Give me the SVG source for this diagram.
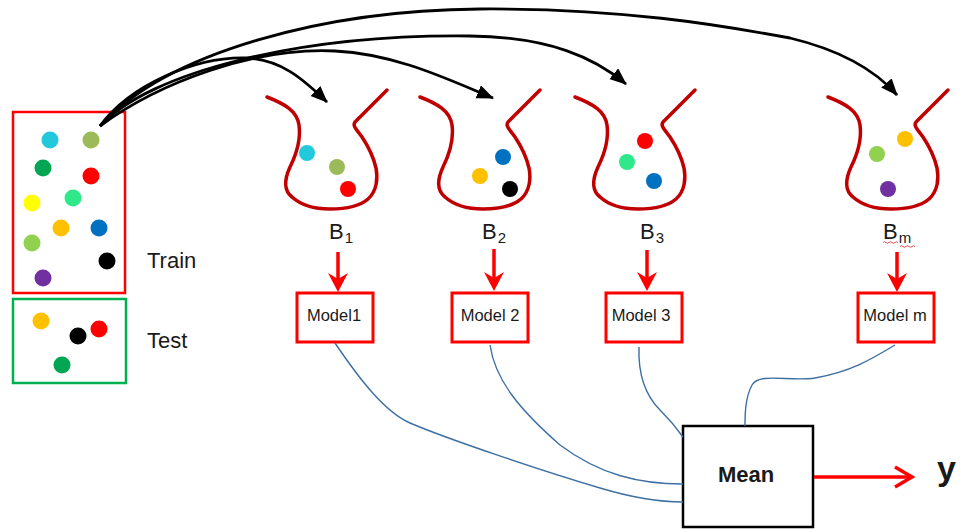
<svg xmlns="http://www.w3.org/2000/svg" xmlns:xlink="http://www.w3.org/1999/xlink" width="968" height="529" viewBox="0 0 968 529">
<style>
  text { font-family: "Liberation Sans", Arial, sans-serif; fill: #1a1a1a; }
  .lbl { font-size: 22px; }
  .sub { font-size: 15px; }
  .model { font-size: 16.5px; text-anchor: middle; }
  .mbox { fill: #fff; stroke: #ff0000; stroke-width: 3; }
  .basket { fill: none; stroke: #c00000; stroke-width: 3.5; stroke-linecap: round; stroke-linejoin: round; }
  .curve { fill: none; stroke: #000; stroke-width: 2.8; }
  .blue { fill: none; stroke: #3d6fa3; stroke-width: 1.4; }
  .redline { stroke: #ff0000; stroke-width: 3.5; fill: none; }
  .redhead { fill: #ff0000; }
</style>
<defs>
  <marker id="blk" markerUnits="userSpaceOnUse" markerWidth="18" markerHeight="16" refX="16" refY="7" orient="auto">
    <path d="M0,0 L17,7 L0,14 Z" fill="#000"/>
  </marker>
  <path id="basketShape" class="basket" d="M267,97 C285,104 297,111 299,125 C301,140 296,155 290,167 C285,178 283,190 292,197 C302,206 316,209 330,209 C345,209 360,206 368,199 C377,191 378,178 376,168 C373,155 368,146 362,137 C357,130 352,126 355,122 L387,90"/>
</defs>
<rect width="968" height="529" fill="#fff"/>

<g id="train">
  <rect x="13" y="112" width="112" height="181" fill="none" stroke="#ff0000" stroke-width="2.5"/>
  <circle cx="50" cy="140" r="8.5" fill="#22c8dc"/>
  <circle cx="91" cy="140" r="8.5" fill="#9bbb59"/>
  <circle cx="43" cy="168" r="8.5" fill="#00a651"/>
  <circle cx="91" cy="176" r="8.5" fill="#ff0000"/>
  <circle cx="32" cy="203" r="8.5" fill="#ffff00"/>
  <circle cx="73" cy="198" r="8.5" fill="#2ee88a"/>
  <circle cx="61" cy="228" r="8.5" fill="#ffc000"/>
  <circle cx="99" cy="228" r="8.5" fill="#0070c0"/>
  <circle cx="32" cy="243" r="8.5" fill="#92d050"/>
  <circle cx="107" cy="261" r="8.5" fill="#000"/>
  <circle cx="43" cy="278" r="8.5" fill="#7030a0"/>
  <text class="lbl" x="147" y="268">Train</text>
</g>

<g id="test">
  <rect x="13" y="299" width="113" height="84" fill="none" stroke="#00b050" stroke-width="2.5"/>
  <circle cx="41" cy="321" r="8.5" fill="#ffc000"/>
  <circle cx="78" cy="336" r="8.5" fill="#000"/>
  <circle cx="99" cy="329" r="8.5" fill="#ff0000"/>
  <circle cx="62" cy="365" r="8.5" fill="#00a651"/>
  <text class="lbl" x="147" y="348">Test</text>
</g>

<g id="B1">
  <use xlink:href="#basketShape" href="#basketShape"/>
  <circle cx="307" cy="153" r="8" fill="#22c8dc"/>
  <circle cx="337" cy="167" r="8" fill="#9bbb59"/>
  <circle cx="348" cy="189" r="8" fill="#ff0000"/>
  <text class="lbl" x="329" y="239">B<tspan class="sub" dx="1" dy="4">1</tspan></text>
</g>

<g id="B2">
  <use xlink:href="#basketShape" href="#basketShape" transform="translate(153,0)"/>
  <circle cx="503" cy="157" r="8" fill="#0070c0"/>
  <circle cx="480" cy="176" r="8" fill="#ffc000"/>
  <circle cx="510" cy="189" r="8" fill="#000"/>
  <text class="lbl" x="482" y="239">B<tspan class="sub" dx="1" dy="4">2</tspan></text>
</g>

<g id="B3">
  <use xlink:href="#basketShape" href="#basketShape" transform="translate(308,0)"/>
  <circle cx="645" cy="141" r="8" fill="#ff0000"/>
  <circle cx="627" cy="162" r="8" fill="#2ee88a"/>
  <circle cx="654" cy="181" r="8" fill="#0070c0"/>
  <text class="lbl" x="640" y="239">B<tspan class="sub" dx="1" dy="4">3</tspan></text>
</g>

<g id="Bm">
  <use xlink:href="#basketShape" href="#basketShape" transform="translate(561,0)"/>
  <circle cx="905" cy="139" r="8" fill="#ffc000"/>
  <circle cx="877" cy="154" r="8" fill="#92d050"/>
  <circle cx="888" cy="189" r="8" fill="#7030a0"/>
  <text class="lbl" x="883" y="239">B<tspan class="sub" dx="1" dy="4">m</tspan></text>
  <path d="M883,242.5 q1.5,-1.5 3,0 t3,0 t3,0 t3,0 t3,0 M900,246.5 q1.5,-1.5 3,0 t3,0 t3,0 t3,0 t3,0" fill="none" stroke="#e04040" stroke-width="0.9"/>
</g>

<g id="model1">
  <rect class="mbox" x="297" y="293" width="76" height="49"/>
  <text class="model" x="334" y="321">Model1</text>
</g>
<g id="model2">
  <rect class="mbox" x="452" y="293" width="76" height="49"/>
  <text class="model" x="490" y="321">Model 2</text>
</g>
<g id="model3">
  <rect class="mbox" x="606" y="293" width="76" height="49"/>
  <text class="model" x="641" y="321">Model 3</text>
</g>
<g id="modelm">
  <rect class="mbox" x="858" y="293" width="76" height="49"/>
  <text class="model" x="895" y="321">Model m</text>
</g>

<g id="mean">
  <rect x="683" y="426" width="130" height="101" fill="#fff" stroke="#000" stroke-width="2.5"/>
  <text x="746" y="482" font-size="22" font-weight="bold" text-anchor="middle">Mean</text>
</g>

<g id="output">
  <text x="937" y="480" font-size="34" font-weight="bold">y</text>
</g>

<g id="connectors">
  <path class="curve" marker-end="url(#blk)" d="M100,126 C130,85 195,57 245,58 C280,59 302,78 327,102"/>
  <path class="curve" marker-end="url(#blk)" d="M100,126 C160,82 255,47 335,51 C395,54 445,78 493,98"/>
  <path class="curve" marker-end="url(#blk)" d="M100,126 C150,72 300,34 470,36 C550,37 595,58 626,84"/>
  <path class="curve" marker-end="url(#blk)" d="M100,126 C170,50 330,10 480,9 C620,8 720,25 790,38 C840,50 875,70 897,95"/>

  <line class="redline" x1="338" y1="252" x2="338" y2="280"/>
  <path class="redhead" d="M328,273 L338,292 L348,273 L338,279 Z"/>
  <line class="redline" x1="494" y1="249" x2="494" y2="279"/>
  <path class="redhead" d="M484,272 L494,291 L504,272 L494,278 Z"/>
  <line class="redline" x1="647" y1="250" x2="647" y2="279"/>
  <path class="redhead" d="M637,272 L647,291 L657,272 L647,278 Z"/>
  <line class="redline" x1="897" y1="252" x2="897" y2="280"/>
  <path class="redhead" d="M887,273 L897,292 L907,273 L897,279 Z"/>

  <path class="blue" d="M335,343 C360,380 385,412 410,423 C450,440 540,470 600,488 C630,497 660,502 683,502"/>
  <path class="blue" d="M490,345 C495,380 520,410 560,445 C600,475 640,484 683,484"/>
  <path class="blue" d="M639,347 C638,375 645,395 660,410 C670,420 678,430 683,437"/>
  <path class="blue" d="M895,345 C870,360 850,372 815,378 C790,382 760,372 752,385 C745,398 745,415 745,426"/>

  <line class="redline" x1="814" y1="477" x2="911" y2="477"/>
  <path d="M895,467 L912,477 L895,487" fill="none" stroke="#ff0000" stroke-width="3.5" stroke-linejoin="miter"/>
</g>
</svg>
